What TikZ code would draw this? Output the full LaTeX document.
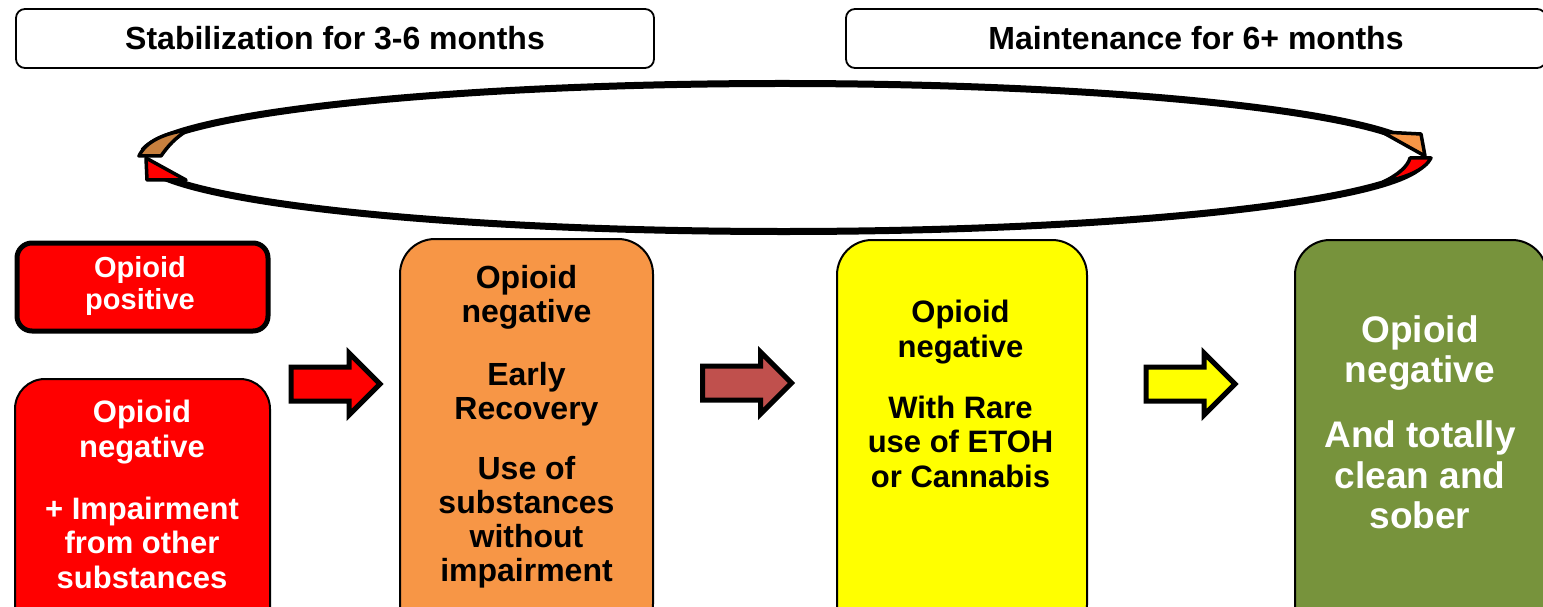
\documentclass[tikz,border=0pt]{standalone}
\usepackage{fontspec}
\setmainfont{Liberation Sans}
\usetikzlibrary{shapes.arrows}

\definecolor{posred}{HTML}{FF0000}
\definecolor{earlyorange}{HTML}{F79646}
\definecolor{rareyellow}{HTML}{FFFF00}
\definecolor{sobergreen}{HTML}{77933C}
\definecolor{arrowbrick}{HTML}{C0504D}
\definecolor{tailbrown}{HTML}{C8803E}

\tikzset{
  panel/.style={draw=black, line width=2pt, anchor=north west, inner sep=0pt},
  phase/.style={draw=black, line width=1.8pt, rounded corners=9pt, inner sep=0pt,
    minimum height=59pt, font=\fontsize{32}{34}\selectfont\bfseries},
  boxtext/.style={inner sep=0pt, anchor=north, align=center},
  blockarrow/.style={single arrow, draw=black, line width=5pt, inner xsep=0pt,
    inner ysep=14.5pt, minimum height=89pt, single arrow head extend=14pt,
    single arrow head indent=0pt, line join=miter},
  loopline/.style={draw=black, line width=7pt},
  loopend/.style={draw=black, line width=3.5pt, line join=round},
}

\begin{document}
\begin{tikzpicture}[x=1pt, y=-1pt]
  \useasboundingbox (0,0) rectangle (1543,607);
  \clip (0,0) rectangle (1543,607);

  % phase headers
  \node[phase, minimum width=638pt] (stab) at (335,38.5) {Stabilization for 3-6 months};
  \node[phase, minimum width=700pt] (maint) at (1196,38.5) {Maintenance for 6+ months};

  % circular pair of arrows
  \draw[loopline] (783,157.5) ++(185:642 and 74) arc[start angle=185, end angle=343, x radius=642, y radius=74];
  \draw[loopline] (783,157.5) ++(5:642 and 74) arc[start angle=5, end angle=168, x radius=642, y radius=74];
  % upper-left tail
  \filldraw[loopend, fill=tailbrown] (139,156) -- (161,156)
    .. controls (168,146) and (175,138) .. (188,130)
    .. controls (165,133) and (146,141) .. (139,156) -- cycle;
  % upper-right head
  \filldraw[loopend, fill=earlyorange] (1382,132) -- (1421,134) -- (1425,156) -- cycle;
  % lower-right tail
  \filldraw[loopend, fill=posred] (1410,158) -- (1431,158)
    .. controls (1425,170) and (1405,178) .. (1383,182)
    .. controls (1398,175) and (1408,166) .. (1410,158) -- cycle;
  % lower-left head
  \filldraw[loopend, fill=posred] (146,158) -- (147,180) -- (186,180) -- cycle;

  % status boxes
  \node[panel, line width=5pt, rounded corners=15pt, fill=posred,
        minimum width=251pt, minimum height=88pt] (pos) at (14.5,240.5) {};
  \node[panel, rounded corners=30pt, fill=posred,
        minimum width=255pt, minimum height=400pt] (negimp) at (14,378) {};
  \node[panel, rounded corners=35pt, fill=earlyorange,
        minimum width=253pt, minimum height=400pt] (early) at (399,238) {};
  \node[panel, rounded corners=35pt, fill=rareyellow,
        minimum width=250pt, minimum height=400pt] (rare) at (836,239) {};
  \node[panel, rounded corners=35pt, fill=sobergreen,
        minimum width=252pt, minimum height=400pt] (sober) at (1294,239) {};

  % box texts
  \node[boxtext, text=white, font=\fontsize{29}{32}\selectfont\bfseries] (postext) at (140,256.5)
    {Opioid\\positive};
  \node[boxtext, text=white, font=\fontsize{31}{34.5}\selectfont\bfseries] (negimptext) at (142,400)
    {Opioid\\negative\\[27.5pt]+ Impairment\\from other\\substances};
  \node[boxtext, text=black, font=\fontsize{32}{34}\selectfont\bfseries] (earlytext) at (526.5,265.5)
    {Opioid\\negative\\[28.5pt]Early\\Recovery\\[26.5pt]Use of\\substances\\without\\impairment};
  \node[boxtext, text=black, font=\fontsize{31}{34.5}\selectfont\bfseries] (raretext) at (960.5,300)
    {Opioid\\negative\\[26.5pt]With Rare\\use of ETOH\\or Cannabis};
  \node[boxtext, text=white, font=\fontsize{37}{40.5}\selectfont\bfseries] (sobertext) at (1420,315)
    {Opioid\\negative\\[24.5pt]And totally\\clean and\\sober};

  % block arrows between stages
  \node[blockarrow, fill=posred] (a1) at (327,384) {};
  \node[blockarrow, fill=arrowbrick] (a2) at (738.5,383) {};
  \node[blockarrow, fill=rareyellow] (a3) at (1182,384) {};
\end{tikzpicture}
\end{document}
